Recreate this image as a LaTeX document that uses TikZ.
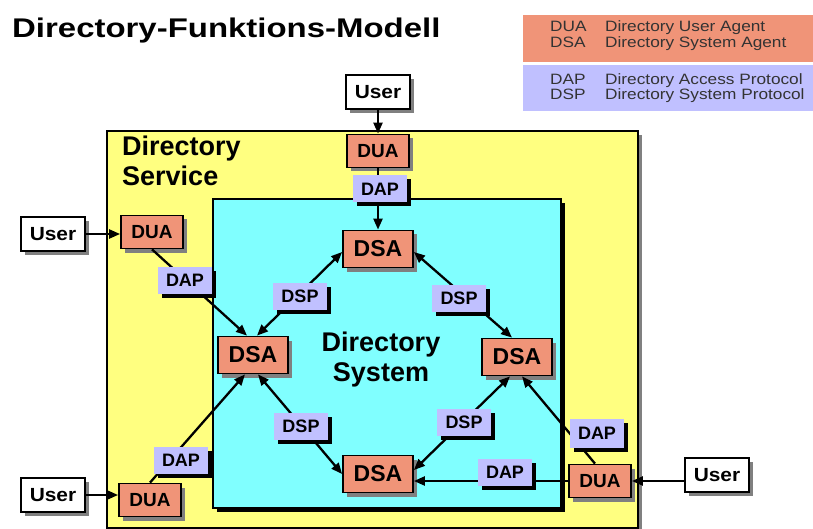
\documentclass[tikz,border=0pt]{standalone}
\usepackage{fontspec}
\setmainfont{Liberation Sans}
\usepackage{graphicx}
\usetikzlibrary{arrows.meta,shadows}

\definecolor{salmon}{RGB}{240,148,120}
\definecolor{lav}{RGB}{192,192,255}
\definecolor{yel}{RGB}{255,255,128}
\definecolor{cyn}{RGB}{128,255,255}

\newcommand{\wx}[2]{\scalebox{#1}[1]{#2}}

\tikzset{
  greyshadow/.style={drop shadow={shadow xshift=4pt,shadow yshift=-4pt,fill=black!50,opacity=1}},
  blackshadow/.style={drop shadow={shadow xshift=4pt,shadow yshift=-4pt,fill=black,opacity=1}},
  agent/.style={draw=black, line width=1.8pt, fill=salmon, inner sep=0pt, greyshadow,
    font=\bfseries\fontsize{19}{21}\selectfont},
  duabox/.style={agent, minimum width=62pt, minimum height=33pt},
  dsabox/.style={agent, minimum width=70pt, minimum height=37pt, font=\bfseries\fontsize{23}{25}\selectfont},
  userbox/.style={draw=black, line width=1.8pt, fill=white, inner sep=0pt, greyshadow,
    minimum width=64pt, minimum height=34pt, font=\bfseries\fontsize{19}{21}\selectfont},
  proto/.style={fill=lav, inner sep=0pt, blackshadow, minimum width=54pt, minimum height=27pt,
    font=\bfseries\fontsize{18}{20}\selectfont},
  conn/.style={line width=2.3pt, -{Triangle[length=11pt,width=9pt]}},
  biconn/.style={line width=2.3pt, {Triangle[length=11pt,width=9pt]}-{Triangle[length=11pt,width=9pt]}},
  legtext/.style={anchor=base west, inner sep=0pt, font=\fontsize{15}{16}\selectfont, text=black!80},
  bigtext/.style={inner sep=0pt, font=\bfseries\fontsize{27}{30}\selectfont},
}

\begin{document}
\begin{tikzpicture}[x=1pt,y=-1pt]
\useasboundingbox (0,0) rectangle (813,529);

% title
\node[anchor=base west, inner sep=0pt] (title) at (12,38)
  {\wx{1.22}{\bfseries\fontsize{27}{30}\selectfont Directory-Funktions-Modell}};

% legend
\node[fill=salmon, anchor=north west, inner sep=0pt, minimum width=290pt, minimum height=47pt] (legA) at (523,15) {};
\node[fill=lav, anchor=north west, inner sep=0pt, minimum width=290pt, minimum height=46pt] (legB) at (523,65) {};
\node[legtext] (l1) at (550,32) {\wx{1.15}{DUA}};
\node[legtext] (l1d) at (605,32) {\wx{1.15}{Directory User Agent}};
\node[legtext] (l2) at (550,48) {\wx{1.15}{DSA}};
\node[legtext] (l2d) at (605,48) {\wx{1.15}{Directory System Agent}};
\node[legtext] (l3) at (550,84.5) {\wx{1.15}{DAP}};
\node[legtext] (l3d) at (605,84.5) {\wx{1.15}{Directory Access Protocol}};
\node[legtext] (l4) at (550,100) {\wx{1.15}{DSP}};
\node[legtext] (l4d) at (605,100) {\wx{1.15}{Directory System Protocol}};

% directory service (yellow) and directory system (cyan)
\node[draw=black, line width=1.8pt, fill=yel, greyshadow, anchor=north west, inner sep=0pt,
      minimum width=531pt, minimum height=397pt] (service) at (106,130) {};
\node[draw=black, line width=1.8pt, fill=cyn, blackshadow, anchor=north west, inner sep=0pt,
      minimum width=348pt, minimum height=309pt] (system) at (212,198) {};

\node[bigtext, anchor=base west, align=left] (svclabel) at (122,186) {Directory\\Service};
\node[bigtext, anchor=base, align=center] (syslabel) at (381,381) {Directory\\System};

% users and agents
\node[userbox] (usrT) at (378,92) {\wx{1.1}{User}};
\node[duabox] (duaT) at (378,151) {DUA};
\node[dsabox] (dsaT) at (378,249) {DSA};

\node[userbox] (usrL) at (53,234) {\wx{1.1}{User}};
\node[duabox] (duaL) at (152,232) {DUA};
\node[dsabox] (dsaL) at (253,355) {DSA};

\node[dsabox] (dsaR) at (517,357) {DSA};
\node[dsabox] (dsaB) at (378,474) {DSA};

\node[duabox] (duaR) at (600,481) {DUA};
\node[userbox] (usrR) at (717,475) {\wx{1.1}{User}};

\node[duabox] (duaLB) at (150,500) {DUA};
\node[userbox] (usrLB) at (53,495) {\wx{1.1}{User}};

% connectors
\draw[conn] (usrT) -- (duaT);
\draw[conn] (duaT) -- (dsaT);
\draw[conn] (usrL.east) -- (usrL.east -| duaL.west);
\draw[conn] (duaL.south) -- ([xshift=-6pt]dsaL.north);
\draw[biconn] ([xshift=4pt]dsaL.north) -- ([yshift=-3pt]dsaT.west);
\draw[biconn] ([yshift=-3pt]dsaT.east) -- ([xshift=-5pt]dsaR.north);
\draw[biconn] ([xshift=5pt]dsaL.south) -- (dsaB.west);
\draw[biconn] ([xshift=-7pt]dsaR.south) -- ([yshift=4pt]dsaB.east);
\draw[conn] (duaR.west) -- (duaR.west -| dsaB.east);
\draw[conn] ([xshift=-5pt]duaR.north) -- ([xshift=5pt]dsaR.south);
\draw[conn] (usrR.west |- duaR.east) -- (duaR.east);
\draw[conn] (duaLB.north) -- ([xshift=-8pt]dsaL.south);
\draw[conn] (usrLB.east) -- (usrLB.east -| duaLB.west);

% protocol labels
\node[proto] (dapT) at (380,189) {DAP};
\node[proto] (dapL) at (185,280) {DAP};
\node[proto] (dspTL) at (300,296) {DSP};
\node[proto] (dspTR) at (459,298) {DSP};
\node[proto] (dspBL) at (301,426) {DSP};
\node[proto] (dspBR) at (464,422) {DSP};
\node[proto] (dapB) at (505,472) {DAP};
\node[proto, minimum height=29pt] (dapR) at (597,433) {DAP};
\node[proto] (dapLB) at (181,460) {DAP};
\end{tikzpicture}
\end{document}
